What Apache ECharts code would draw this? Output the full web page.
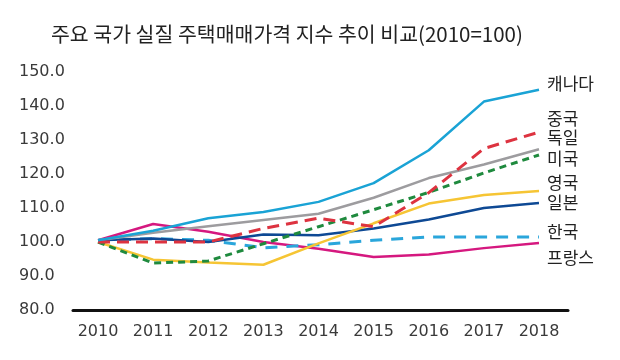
<!DOCTYPE html>
<html><head><meta charset="utf-8">
<script src="https://cdn.jsdelivr.net/npm/echarts@6/dist/echarts.min.js"></script>
<style>html,body{margin:0;padding:0;background:#fff}#c{width:620px;height:360px}</style>
</head><body><div id="c"></div>
<script>
var years = [2010, 2011, 2012, 2013, 2014, 2015, 2016, 2017, 2018];
var yTicks = [80, 90, 100, 110, 120, 130, 140, 150];
var canada  = [100.5, 103.3, 107.0, 108.8, 111.8, 117.3, 127.0, 141.3, 144.8];
var china   = [100.0, 100.0, 100.0, 104.0, 107.0, 104.5, 114.5, 127.5, 132.3];
var germany = [100.5, 102.7, 104.6, 106.5, 108.3, 113.0, 118.8, 122.8, 127.3];
var usa     = [100.0, 93.8, 94.4, 99.5, 104.5, 109.5, 114.6, 120.3, 125.6];
var uk      = [100.0, 94.8, 94.0, 93.3, 99.6, 105.5, 111.3, 113.8, 115.0];
var japan   = [100.5, 101.0, 100.0, 102.2, 102.0, 104.0, 106.6, 110.0, 111.5];
var korea   = [100.5, 101.0, 100.5, 98.3, 99.2, 100.5, 101.5, 101.5, 101.5];
var france  = [100.5, 105.3, 103.0, 100.0, 98.0, 95.6, 96.3, 98.2, 99.7];
var names = ['캐나다', '중국', '독일', '미국', '영국', '일본', '한국', '프랑스'];
var title = '주요 국가 실질 주택매매가격 지수 추이 비교(2010=100)';

var seriesData = [canada, china, germany, usa, uk, japan, korea, france];
var colors = ['#1aa3d5', '#dd3340', '#9d9c9f', '#1f8a3e', '#f6c534', '#0e4994', '#2aa6db', '#d5187f'];
var dashes = [null, [12, 7], null, [7, 5], null, null, [12, 9], null];
var labelDy = [-6, -14, -12, 4, -8, 0, -5, 15];

function pairs(arr) { return arr.map(function (v, i) { return [years[i], v]; }); }

var chart = echarts.init(document.getElementById('c'), null, {renderer: 'canvas'});
chart.setOption({
  animation: false,
  title: {
    text: title, left: 46, top: 19,
    textStyle: {fontFamily: 'Noto Sans CJK KR', fontSize: 20.5, fontWeight: 'normal', color: '#222'}
  },
  grid: {left: 73, right: 52, top: 72, bottom: 50},
  xAxis: {
    type: 'value', min: 2009.546, max: 2018.526,
    splitLine: {show: false},
    axisLine: {show: true, lineStyle: {color: '#111', width: 3}},
    axisTick: {show: false},
    axisLabel: {
      customValues: years, margin: 14,
      fontFamily: 'DejaVu Sans', fontSize: 16, color: '#3a3a3a',
      formatter: function (v) { return String(v); }
    }
  },
  yAxis: {
    type: 'value', min: 80, max: 150, interval: 10,
    splitLine: {show: false},
    axisLine: {show: false}, axisTick: {show: false},
    axisLabel: {
      align: 'left', margin: 54,
      fontFamily: 'DejaVu Sans', fontSize: 16, color: '#3a3a3a',
      formatter: function (v) { return v.toFixed(1); }
    }
  },
  series: seriesData.map(function (d, i) {
    return {
      type: 'line', name: names[i], data: pairs(d),
      symbol: 'none', smooth: false,
      lineStyle: {color: colors[i], width: dashes[i] ? 3 : 2.5, type: dashes[i] || 'solid'},
      z: 10 - i,
      endLabel: {
        show: true, formatter: '{a}', distance: 8, offset: [0, labelDy[i]],
        fontFamily: 'Noto Sans CJK KR', fontSize: 17, color: '#222'
      }
    };
  })
});
</script></body></html>
